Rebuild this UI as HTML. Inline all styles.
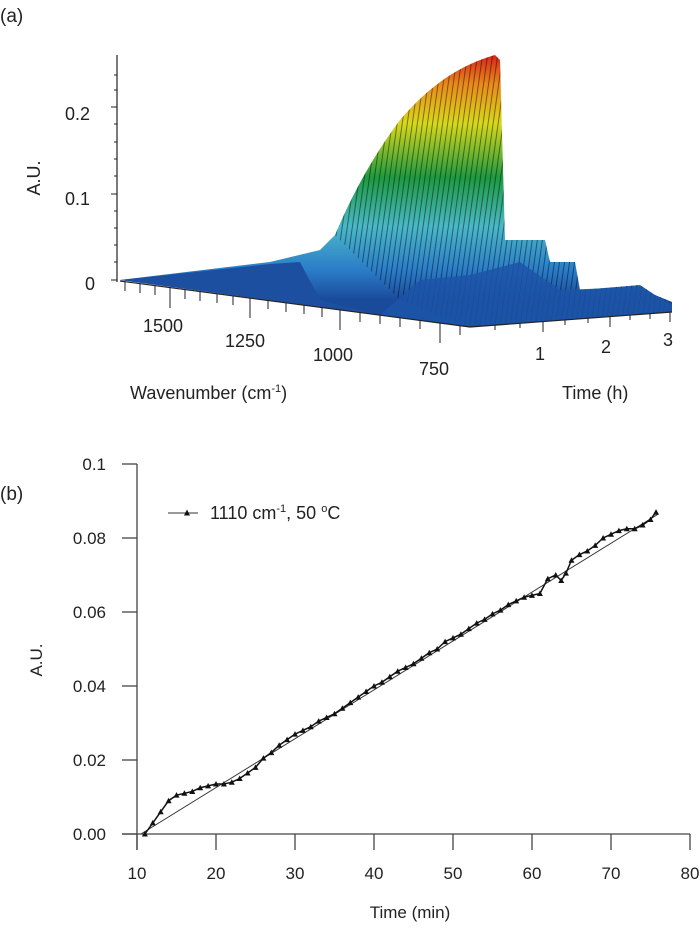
<!DOCTYPE html>
<html><head><meta charset="utf-8"><style>
body{margin:0;background:#fff;width:700px;height:932px;overflow:hidden;font-family:"Liberation Sans",sans-serif}
svg{position:absolute;left:0;top:0}
text{font-family:"Liberation Sans",sans-serif;fill:#222}
</style></head><body>
<svg width="700" height="932">
<defs>
<linearGradient id="g" x1="0" y1="55" x2="0" y2="300" gradientUnits="userSpaceOnUse">
<stop offset="0" stop-color="#d8261a"/><stop offset="0.12" stop-color="#e98a1c"/><stop offset="0.28" stop-color="#d8d81c"/>
<stop offset="0.5" stop-color="#1d9a40"/><stop offset="0.7" stop-color="#4ab8c8"/><stop offset="0.88" stop-color="#2a7cc8"/><stop offset="1" stop-color="#1a4a9a"/>
</linearGradient>
<pattern id="st" width="5" height="40" patternUnits="userSpaceOnUse" patternTransform="rotate(8)">
<rect x="0" y="0" width="1" height="40" fill="#000" opacity="0.45"/></pattern>
</defs>
<text x="0" y="22" font-size="19">(a)</text>
<g>
<path d="M120,280 L270,262 L320,250 L335,235 C350,200 370,160 400,120 C430,85 460,65 495,55 L500,60 L505,240 L545,240 L550,262 L575,262 L580,290 L640,285 L655,295 L672,302 L672,312 L470,327 Z" fill="url(#g)"/>
<path d="M335,235 C350,200 370,160 400,120 C430,85 460,65 495,55 L500,60 L505,240 L545,240 L550,262 L575,262 L580,290 L640,285 L655,295 L672,302 L672,312 L470,327 L400,300 Z" fill="url(#st)"/>
<path d="M120,280 L270,264 L300,262 L320,300 L380,315 L470,327 Z" fill="#1d4fa0"/>
<path d="M380,315 L420,280 L470,275 L520,262 L560,290 L640,287 L672,304 L672,312 L470,327 Z" fill="#1c55a8" opacity="0.85"/>
</g>
<g stroke="#222" fill="none">
<line x1="117" y1="55" x2="117" y2="282" stroke-width="1.2"/>
<line x1="117" y1="107" x2="111" y2="107"/><line x1="117" y1="194" x2="111" y2="194"/><line x1="117" y1="280" x2="111" y2="280"/>
<line x1="117" y1="75" x2="114" y2="75"/><line x1="117" y1="90" x2="114" y2="90"/><line x1="117" y1="124" x2="114" y2="124"/><line x1="117" y1="142" x2="114" y2="142"/><line x1="117" y1="159" x2="114" y2="159"/><line x1="117" y1="176" x2="114" y2="176"/><line x1="117" y1="211" x2="114" y2="211"/><line x1="117" y1="228" x2="114" y2="228"/><line x1="117" y1="245" x2="114" y2="245"/><line x1="117" y1="262" x2="114" y2="262"/>
<line x1="120" y1="281" x2="470" y2="327" stroke-width="1.2"/>
<line x1="470" y1="327" x2="672" y2="312" stroke-width="1.2"/>
<line x1="170" y1="287" x2="170" y2="308"/><line x1="250" y1="298" x2="250" y2="318"/><line x1="340" y1="310" x2="340" y2="330"/><line x1="440" y1="323" x2="440" y2="343"/>
<line x1="125" y1="282" x2="125" y2="291"/><line x1="140" y1="284" x2="140" y2="293"/><line x1="155" y1="286" x2="155" y2="295"/><line x1="185" y1="290" x2="185" y2="299"/><line x1="200" y1="292" x2="200" y2="301"/><line x1="217" y1="294" x2="217" y2="303"/><line x1="233" y1="296" x2="233" y2="305"/><line x1="268" y1="300" x2="268" y2="309"/><line x1="286" y1="303" x2="286" y2="312"/><line x1="304" y1="305" x2="304" y2="314"/><line x1="322" y1="308" x2="322" y2="317"/><line x1="360" y1="313" x2="360" y2="322"/><line x1="380" y1="315" x2="380" y2="324"/><line x1="400" y1="318" x2="400" y2="327"/><line x1="420" y1="320" x2="420" y2="329"/><line x1="460" y1="326" x2="460" y2="335"/>
<line x1="543" y1="322" x2="543" y2="332"/><line x1="610" y1="317" x2="610" y2="327"/><line x1="670" y1="312" x2="670" y2="322"/>
<line x1="495" y1="325" x2="495" y2="330"/><line x1="520" y1="323" x2="520" y2="328"/><line x1="565" y1="320" x2="565" y2="325"/><line x1="588" y1="318" x2="588" y2="323"/><line x1="630" y1="315" x2="630" y2="320"/><line x1="650" y1="314" x2="650" y2="319"/>
</g>
<text x="90" y="120" font-size="18" text-anchor="end">0.2</text>
<text x="90" y="205" font-size="18" text-anchor="end">0.1</text>
<text x="95" y="290" font-size="18" text-anchor="end">0</text>
<text x="0" y="0" font-size="18" text-anchor="middle" transform="translate(40,178) rotate(-90)">A.U.</text>
<text x="163" y="332" font-size="18" text-anchor="middle">1500</text>
<text x="245" y="347" font-size="18" text-anchor="middle">1250</text>
<text x="333" y="361" font-size="18" text-anchor="middle">1000</text>
<text x="434" y="375" font-size="18" text-anchor="middle">750</text>
<text x="540" y="360" font-size="18" text-anchor="middle">1</text>
<text x="606" y="353" font-size="18" text-anchor="middle">2</text>
<text x="668" y="346" font-size="18" text-anchor="middle">3</text>
<text x="130" y="399" font-size="18">Wavenumber (cm<tspan font-size="11" dy="-7">-1</tspan><tspan dy="7">)</tspan></text>
<text x="562" y="399" font-size="18">Time (h)</text>
<text x="0" y="500" font-size="19">(b)</text>
<g id="chartb"></g>
</svg>
<script>
const times=[11,12,13,14,15,16,17,18,19,20,21,22,23,24,25,26,27,28,29,30,31,32,33,34,35,36,37,38,39,40,41,42,43,44,45,46,47,48,49,50,51,52,53,54,55,56,57,58,59,60,61,62,63,63.7,64.3,65,66,67,68,69,70,71,72,73,74,75,75.7];
const values=[0,0.003,0.006,0.009,0.0105,0.011,0.0115,0.0125,0.013,0.0135,0.0135,0.014,0.015,0.0165,0.018,0.0205,0.022,0.024,0.0255,0.027,0.028,0.029,0.0305,0.0315,0.0325,0.034,0.0355,0.037,0.0385,0.04,0.041,0.0425,0.044,0.045,0.046,0.0475,0.049,0.05,0.052,0.053,0.054,0.0555,0.057,0.058,0.0595,0.0605,0.062,0.063,0.064,0.0645,0.065,0.069,0.07,0.0685,0.0705,0.074,0.0755,0.0765,0.078,0.08,0.081,0.082,0.0825,0.0825,0.0835,0.085,0.087];
const fitTimes=[10.5,76];
const fitValues=[0,0.0865];
const xTicks=[10,20,30,40,50,60,70,80];
const yTicks=[0,0.02,0.04,0.06,0.08,0.1];
const yTickLabels=["0.00","0.02","0.04","0.06","0.08","0.1"];
const NS="http://www.w3.org/2000/svg";
const g=document.getElementById('chartb');
const X=t=>137+(t-10)*7.9;
const Y=v=>834-v*3700;
function mk(tag,a,p){const e=document.createElementNS(NS,tag);for(const k in a)e.setAttribute(k,a[k]);(p||g).appendChild(e);return e;}
let e;
e=mk('line',{x1:137,y1:Y(0.1),x2:137,y2:850,stroke:'#444','stroke-width':1.3});


e=mk('line',{x1:122,y1:834,x2:X(80),y2:834,stroke:'#444','stroke-width':1.3});


xTicks.forEach(t=>{
 e=mk('line',{x1:X(t),y1:834,x2:X(t),y2:850,stroke:'#444','stroke-width':1.3});
 
 
 e=mk('text',{x:X(t),y:879,'font-size':17,'text-anchor':'middle'});e.textContent=t;
 
 
});
yTicks.forEach((v,i)=>{
 e=mk('line',{x1:122,y1:Y(v),x2:137,y2:Y(v),stroke:'#444','stroke-width':1.3});
 
 
 e=mk('text',{x:106,y:Y(v)+6,'font-size':17,'text-anchor':'end'});e.textContent=yTickLabels[i];
 
 
});
e=mk('text',{x:0,y:0,'font-size':17,'text-anchor':'middle',transform:'translate(42,660) rotate(-90)'});e.textContent='A.U.';


e=mk('text',{x:410,y:918,'font-size':17,'text-anchor':'middle'});e.textContent='Time (min)';


e=mk('line',{x1:X(fitTimes[0]),y1:Y(fitValues[0]),x2:X(fitTimes[1]),y2:Y(fitValues[1]),stroke:'#333','stroke-width':1});


e=mk('polyline',{points:times.map((t,i)=>X(t)+','+Y(values[i])).join(' '),fill:'none',stroke:'#111','stroke-width':1.5});


times.forEach((t,i)=>{const x=X(t),y=Y(values[i]);
 e=mk('path',{d:`M${x-3},${y+2.5} L${x+3},${y+2.5} L${x},${y-3} Z`,fill:'#111'});
 
 
});
e=mk('line',{x1:168,y1:513,x2:198,y2:513,stroke:'#333','stroke-width':1});


e=mk('path',{d:'M184,515.5 L190,515.5 L187,509.5 Z',fill:'#111'});


e=mk('text',{x:210,y:519,'font-size':18});
e.innerHTML='1110 cm<tspan font-size="11" dy="-7">-1</tspan><tspan dy="7">, 50 </tspan><tspan font-size="11" dy="-7">o</tspan><tspan dy="7">C</tspan>';


</script>
</body></html>
